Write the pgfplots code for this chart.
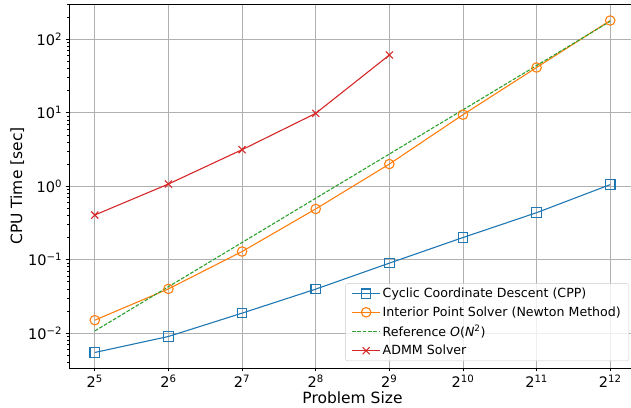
\documentclass[border=0pt]{standalone}
\usepackage{fontspec}
\setmainfont{DejaVu Sans}
\usepackage{pgfplots}
\pgfplotsset{compat=1.18}
\definecolor{c0}{HTML}{1F77B4}
\definecolor{c1}{HTML}{FF7F0E}
\definecolor{c2}{HTML}{2CA02C}
\definecolor{c3}{HTML}{D62728}
\definecolor{gridc}{HTML}{B0B0B0}
\begin{document}
\begin{tikzpicture}
\begin{axis}[
  scale only axis, width=567pt, height=364pt,
  xmode=log, ymode=log, log basis x=2, log basis y=10,
  xmin=25.1, xmax=5221, ymin=0.00335, ymax=302,
  xtick={32,64,128,256,512,1024,2048,4096},
  xticklabels={2\textsuperscript{5},2\textsuperscript{6},2\textsuperscript{7},2\textsuperscript{8},2\textsuperscript{9},2\textsuperscript{10},2\textsuperscript{11},2\textsuperscript{12}},
  ytick={0.01,0.1,1,10,100},
  yticklabels={10\textsuperscript{−2},10\textsuperscript{−1},10\textsuperscript{0},10\textsuperscript{1},10\textsuperscript{2}},
  minor xtick={},
  minor ytick={0.004,0.005,0.006,0.007,0.008,0.009,0.02,0.03,0.04,0.05,0.06,0.07,0.08,0.09,0.2,0.3,0.4,0.5,0.6,0.7,0.8,0.9,2,3,4,5,6,7,8,9,20,30,40,50,60,70,80,90,200,300},
  grid=major, major grid style={color=gridc, line width=0.8pt},
  tick align=outside, tick pos=left,
  major tick length=3.5pt, minor tick length=2pt,
  every tick/.style={black, line width=0.8pt},
  minor tick style={black, line width=0.6pt},
  axis line style={line width=0.8pt},
  ticklabel style={font=\fontsize{14.5}{15}\selectfont},
  label style={font=\fontsize{15.5}{16}\selectfont},
  xlabel={Problem Size}, ylabel={CPU Time [sec]},
  ylabel shift=-3pt, xlabel shift=-3pt,
  legend cell align=left,
  legend image code/.code={\draw[mark repeat=2,mark phase=2,#1] plot coordinates {(0pt,0pt) (14pt,0pt) (28pt,0pt)};},
  legend style={at={(1,0)}, anchor=south east, xshift=-7pt, yshift=7pt,
    draw=gray!40, rounded corners=2pt, fill=white, fill opacity=0.8, text opacity=1,
    row sep=3.5pt, inner ysep=2.5pt, inner xsep=6pt,
    font=\fontsize{12.6}{14}\selectfont},
]
\addplot[c0, line width=1.1pt, mark=square, mark size=4.75pt, mark options={fill=none, line width=1.1pt}] coordinates {
(32,0.00545) (64,0.0090) (128,0.0187) (256,0.0397) (512,0.0896) (1024,0.200) (2048,0.436) (4096,1.05)};
\addlegendentry{Cyclic Coordinate Descent (CPP)}
\addplot[c1, line width=1.1pt, mark=o, mark size=4.75pt, mark options={fill=none, line width=1.1pt}] coordinates {
(32,0.0150) (64,0.0400) (128,0.129) (256,0.490) (512,2.00) (1024,9.40) (2048,41.3) (4096,180)};
\addlegendentry{Interior Point Solver (Newton Method)}
\addplot[c2, line width=1.1pt, dashed, dash pattern=on 3.7pt off 1.6pt] coordinates {
(32,0.0107) (64,0.0428) (128,0.1712) (256,0.6848) (512,2.739) (1024,10.96) (2048,43.83) (4096,175.3)};
\addlegendentry{Reference \textit{O}(\textit{N}\textsuperscript{2})}
\addplot[c3, line width=1.1pt, mark=x, mark size=5pt, mark options={line width=1.1pt}] coordinates {
(32,0.405) (64,1.07) (128,3.14) (256,9.8) (512,61)};
\addlegendentry{ADMM Solver}
\end{axis}
\pgfresetboundingbox
\path[use as bounding box] ([shift={(-69pt,-40pt)}]current axis.south west) rectangle ([shift={(-5pt,4pt)}]current axis.north east);
\end{tikzpicture}
\end{document}
